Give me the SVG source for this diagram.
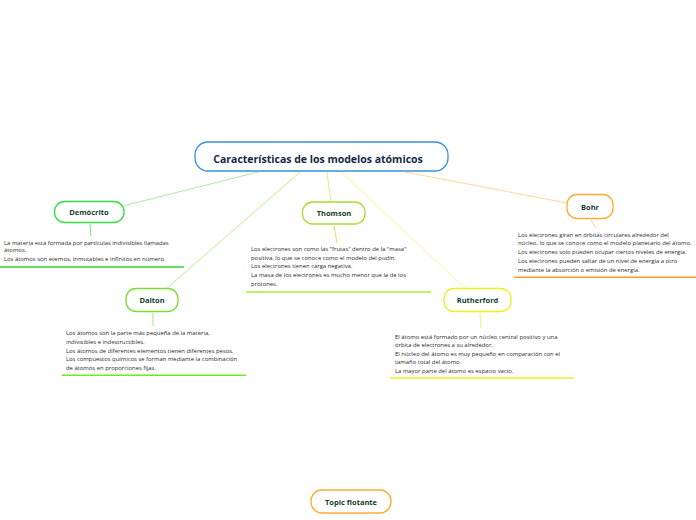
<svg xmlns="http://www.w3.org/2000/svg" width="696" height="520" viewBox="0 0 696 520">
<style>
.node{fill:#fff;stroke-width:1.3}
.lbl{font-family:"Open Sans","Liberation Sans",sans-serif;font-weight:bold;fill:#123d2c;text-anchor:middle}
.body{font-family:"Open Sans","Liberation Sans",sans-serif;font-size:5.9px;fill:#2a2a2a}
.ul{stroke-width:1.4;fill:none}
.con{fill:none;stroke-width:0.8}
</style>
<rect width="696" height="520" fill="#fff"/>
<g id="connectors">
<line class="con" x1="258" y1="172" x2="123" y2="206" stroke="#8ee88e"/>
<line class="con" x1="300" y1="172" x2="166" y2="289" stroke="#a6ee70"/>
<line class="con" x1="327" y1="172" x2="331" y2="202" stroke="#c8ee60"/>
<line class="con" x1="341" y1="172" x2="466" y2="289" stroke="#f4f47a"/>
<line class="con" x1="405" y1="172" x2="567" y2="203" stroke="#ffcc88"/>
<line class="con" x1="90" y1="224" x2="91" y2="236" stroke="#55dd55"/>
<line class="con" x1="153" y1="313" x2="153" y2="326" stroke="#88dd55"/>
<line class="con" x1="334" y1="226" x2="337" y2="243" stroke="#b5e040"/>
<line class="con" x1="480" y1="313" x2="481" y2="328" stroke="#eeee44"/>
<line class="con" x1="591" y1="220" x2="596" y2="228" stroke="#ffbb66"/>
</g>
<g id="main">
<rect class="node" x="195" y="142" width="253" height="29" rx="13" stroke="#3a8ee0"/>
<text class="lbl" x="318" y="163" font-size="10.5" style="fill:#14284a">Características de los modelos atómicos</text>
</g>
<g id="democrito">
<rect class="node" x="54.5" y="201.5" width="69.5" height="21" rx="10" stroke="#33dd44"/>
<text class="lbl" x="89" y="215" font-size="7.5">Demócrito</text>
<text class="body" x="4" y="244.5">La materia está formada por partículas indivisibles llamadas</text>
<text class="body" x="4" y="252">átomos.</text>
<text class="body" x="4" y="260.5">Los átomos son eternos, inmutables e infinitos en número.</text>
<line class="ul" x1="0" y1="267" x2="184" y2="267" stroke="#33cc33"/>
</g>
<g id="thomson">
<rect class="node" x="302.5" y="202" width="62.5" height="22" rx="10" stroke="#a8dd30"/>
<text class="lbl" x="334" y="216" font-size="7.5">Thomson</text>
<text class="body" x="251" y="251.3">Los electrones son como las "frutas" dentro de la "masa"</text>
<text class="body" x="251" y="259.7">positiva, lo que se conoce como el modelo del pudín.</text>
<text class="body" x="251" y="268">Los electrones tienen carga negativa.</text>
<text class="body" x="251" y="277">La masa de los electrones es mucho menor que la de los</text>
<text class="body" x="251" y="286.3">protones.</text>
<line class="ul" x1="246" y1="292" x2="431" y2="292" stroke="#aaee33"/>
</g>
<g id="bohr">
<rect class="node" x="567" y="194.5" width="46" height="24" rx="10" stroke="#ffaa33"/>
<text class="lbl" x="590" y="209.5" font-size="7.5">Bohr</text>
<text class="body" x="518" y="237">Los electrones giran en órbitas circulares alrededor del</text>
<text class="body" x="518" y="245.3">núcleo, lo que se conoce como el modelo planetario del átomo.</text>
<text class="body" x="518" y="254">Los electrones solo pueden ocupar ciertos niveles de energía.</text>
<text class="body" x="518" y="263">Los electrones pueden saltar de un nivel de energía a otro</text>
<text class="body" x="518" y="272">mediante la absorción o emisión de energía.</text>
<line class="ul" x1="514" y1="277.3" x2="696" y2="277.3" stroke="#ff9922"/>
</g>
<g id="dalton">
<rect class="node" x="126" y="288.5" width="52" height="23" rx="10" stroke="#77dd33"/>
<text class="lbl" x="152" y="303" font-size="7.5">Dalton</text>
<text class="body" x="66" y="335.3">Los átomos son la parte más pequeña de la materia,</text>
<text class="body" x="66" y="343.7">indivisibles e indestructibles.</text>
<text class="body" x="66" y="353">Los átomos de diferentes elementos tienen diferentes pesos.</text>
<text class="body" x="66" y="361.3">Los compuestos químicos se forman mediante la combinación</text>
<text class="body" x="66" y="370.3">de átomos en proporciones fijas.</text>
<line class="ul" x1="62" y1="375.3" x2="246" y2="375.3" stroke="#66ee22"/>
</g>
<g id="rutherford">
<rect class="node" x="444" y="288.5" width="67" height="23" rx="10" stroke="#eeee22"/>
<text class="lbl" x="477.5" y="303" font-size="7.5">Rutherford</text>
<text class="body" x="395" y="339.3">El átomo está formado por un núcleo central positivo y una</text>
<text class="body" x="395" y="347">órbita de electrones a su alrededor.</text>
<text class="body" x="395" y="356">El núcleo del átomo es muy pequeño en comparación con el</text>
<text class="body" x="395" y="364.3">tamaño total del átomo.</text>
<text class="body" x="395" y="372.7">La mayor parte del átomo es espacio vacío.</text>
<line class="ul" x1="390" y1="378" x2="574" y2="378" stroke="#eeee22"/>
</g>
<g id="topic-flotante">
<rect class="node" x="311" y="490" width="80" height="23" rx="11" stroke="#ffaa33"/>
<text class="lbl" x="351" y="504.5" font-size="7.5">Topic flotante</text>
</g>
</svg>
